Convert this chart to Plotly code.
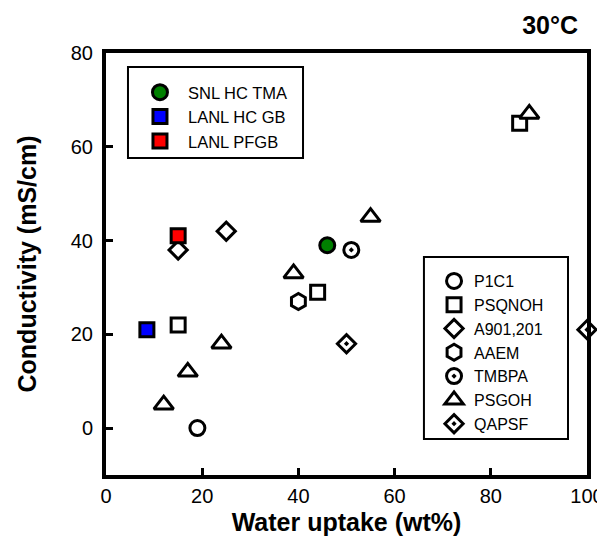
import plotly.graph_objects as go

# ---- data (water uptake wt%, conductivity mS/cm) ----
p1c1_x = [19]
p1c1_y = [0]
psqnoh_x = [15, 44, 86]
psqnoh_y = [22, 29, 65]
a901_x = [15, 25]
a901_y = [38, 42]
aaem_x = [40]
aaem_y = [27]
tmbpa_x = [51]
tmbpa_y = [38]
psgoh_x = [12, 17, 24, 39, 55, 88]
psgoh_y = [5, 12, 18, 33, 45, 67]
qapsf_x = [50, 100]
qapsf_y = [18, 21]
snl_x = [46]
snl_y = [39]
lanl_gb_x = [8.5]
lanl_gb_y = [21]
lanl_pfgb_x = [15]
lanl_pfgb_y = [41]

x_ticks = [0, 20, 40, 60, 80, 100]
y_ticks = [0, 20, 40, 60, 80]

FONT = "Arial, Liberation Sans, sans-serif"

# the page body adds an 8px offset; the figure is sized to fill the rest
W, H = 597, 542

fig = go.Figure()

def add(name, xs, ys, symbol, size, fill, legend):
    fig.add_trace(go.Scatter(
        x=xs, y=ys, mode="markers", name=name, legend=legend,
        marker=dict(symbol=symbol, size=size, color=fill,
                    line=dict(color="black", width=3)),
        cliponaxis=False,
    ))

add("P1C1", p1c1_x, p1c1_y, "circle", 15, "white", "legend2")
add("PSQNOH", psqnoh_x, psqnoh_y, "square", 14, "white", "legend2")
add("A901,201", a901_x, a901_y, "diamond", 14, "white", "legend2")
add("AAEM", aaem_x, aaem_y, "hexagon", 16, "white", "legend2")
add("TMBPA", tmbpa_x, tmbpa_y, "circle-dot", 15, "white", "legend2")
add("PSGOH", psgoh_x, psgoh_y, "triangle-up", 17, "white", "legend2")
add("QAPSF", qapsf_x, qapsf_y, "diamond-dot", 14, "white", "legend2")
add("SNL HC TMA", snl_x, snl_y, "circle", 15, "green", "legend")
add("LANL HC GB", lanl_gb_x, lanl_gb_y, "square", 14, "blue", "legend")
add("LANL PFGB", lanl_pfgb_x, lanl_pfgb_y, "square", 14, "red", "legend")

axis_common = dict(
    showline=True, linecolor="black", linewidth=4, mirror=True,
    ticks="inside", ticklen=7, tickwidth=3, tickcolor="black",
    showgrid=False, zeroline=False,
    tickfont=dict(family=FONT, size=20, color="black"),
)

fig.update_layout(
    width=W, height=H,
    margin=dict(l=98, r=18, t=45, b=75, autoexpand=False),
    paper_bgcolor="white", plot_bgcolor="white",
    font=dict(family=FONT, color="black"),
    title=dict(text="<b>30°C</b>", x=570 / W, xanchor="right",
               y=1 - 17 / H, yanchor="middle",
               font=dict(family=FONT, size=25, color="black")),
    xaxis=dict(range=[0, 100], tickvals=x_ticks, ticklabelstandoff=0,
               title=dict(text="<b>Water uptake (wt%)</b>", standoff=8,
                          font=dict(family=FONT, size=25)),
               **axis_common),
    yaxis=dict(range=[-10, 80], tickvals=y_ticks, ticklabelstandoff=5,
               title=dict(text="<b>Conductivity (mS/cm)</b>", standoff=28,
                          font=dict(family=FONT, size=25)),
               **axis_common),
    legend=dict(x=0.054, y=0.948, xanchor="left", yanchor="top",
                bgcolor="rgba(0,0,0,0)", borderwidth=0, itemwidth=46,
                font=dict(family=FONT, size=16.5, color="black")),
    legend2=dict(x=0.682, y=0.50, xanchor="left", yanchor="top",
                 bgcolor="rgba(0,0,0,0)", borderwidth=0, itemwidth=30,
                 font=dict(family=FONT, size=16, color="black")),
    shapes=[
        dict(type="rect", xref="paper", yref="paper",
             x0=0.0457, x1=0.4096, y0=0.7512, y1=0.9668,
             line=dict(color="black", width=2), layer="below"),
        dict(type="rect", xref="paper", yref="paper",
             x0=0.661, x1=0.9605, y0=0.0853, y1=0.5166,
             line=dict(color="black", width=2), layer="below"),
    ],
)

fig.write_html("out.html")
